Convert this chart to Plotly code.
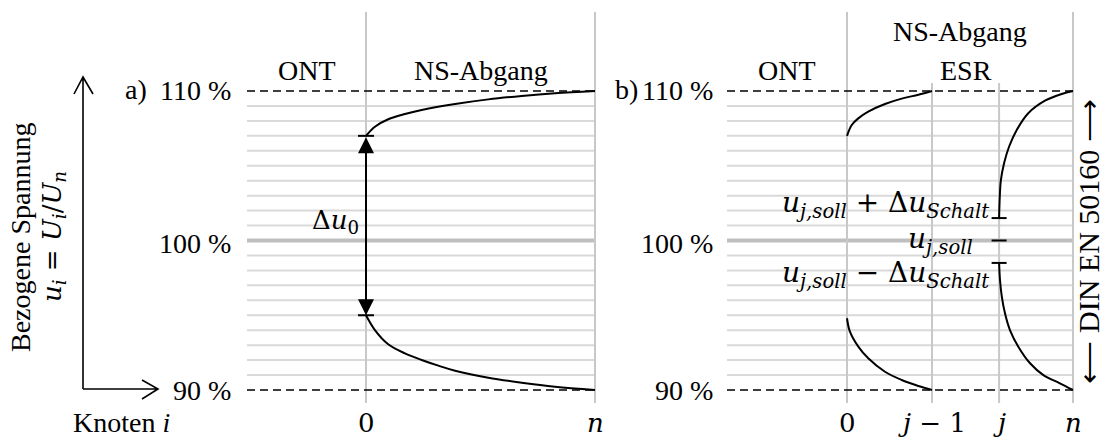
import plotly.graph_objects as go

W, H = 1105, 441

# ---------------- data ----------------
y_tick_vals = [90, 100, 110]
y_tick_text = ["90 %", "100 %", "110 %"]
grid_levels = [91, 92, 93, 94, 95, 96, 97, 98, 99,
               101, 102, 103, 104, 105, 106, 107, 108, 109]
band_low = 90
band_high = 110
u_nominal = 100

# panel a) (node position normalised: 0 = transformer, 1 = node n)
a_node_pos = [0.0, 1.0]
a_node_labels = ["0", "<i>n</i>"]
a_upper_x = [0.0, 0.039, 0.097, 0.170, 0.243, 0.389, 0.534, 0.680, 0.825, 1.0]
a_upper_u = [107.0, 107.61, 108.11, 108.46, 108.73, 109.13, 109.44, 109.67, 109.85, 110.0]
a_lower_x = [0.0, 0.039, 0.097, 0.170, 0.243, 0.316, 0.389, 0.534, 0.680, 0.825, 1.0]
a_lower_u = [95.0, 94.01, 93.06, 92.45, 92.01, 91.63, 91.29, 90.82, 90.49, 90.22, 90.0]
u0_high = 107.0
u0_low = 95.0

# panel b)
b_node_pos = [0.0, 0.376, 0.673, 1.0]
b_node_labels = ["0", "<i>j</i> − 1", "<i>j</i>", "<i>n</i>"]
b_up1_x = [0.0, 0.021, 0.050, 0.094, 0.168, 0.242, 0.316, 0.376]
b_up1_u = [107.0, 107.73, 108.17, 108.62, 109.13, 109.49, 109.75, 110.0]
b_lo1_x = [0.0, 0.013, 0.050, 0.094, 0.168, 0.242, 0.316, 0.376]
b_lo1_u = [94.8, 93.9, 92.90, 92.12, 91.22, 90.67, 90.27, 90.0]
b_up2_x = [0.673, 0.676, 0.681, 0.695, 0.717, 0.751, 0.802, 0.876, 0.950, 1.0]
b_up2_u = [101.5, 102.93, 104.05, 105.16, 106.27, 107.39, 108.51, 109.35, 109.80, 110.0]
b_lo2_x = [0.673, 0.677, 0.685, 0.699, 0.721, 0.758, 0.810, 0.869, 0.942, 1.0]
b_lo2_u = [98.5, 97.36, 96.24, 95.13, 94.01, 92.90, 91.79, 91.00, 90.45, 90.0]
u_j_soll = 100.0
du_schalt = 1.5

# ---------------- geometry (layout only) ----------------
PX_Y110, PX_Y90 = 91, 390
ppu = (PX_Y90 - PX_Y110) / (band_high - band_low)
y_range = [band_high - (H - PX_Y110) / ppu, band_high + PX_Y110 / ppu]
A_P0, A_PN = 366, 595
B_P0, B_PN = 847, 1073
a_scale = A_PN - A_P0
b_scale = B_PN - B_P0
xa_range = [-A_P0 / a_scale, (W - A_P0) / a_scale]
xb_range = [-B_P0 / b_scale, (W - B_P0) / b_scale]
a_left = (247 - A_P0) / a_scale
b_left = (727 - B_P0) / b_scale
y_vbot = band_low - (403 - PX_Y90) / ppu
y_vtop = band_high + (PX_Y110 - 12) / ppu
y_vtop_short = band_high + (PX_Y110 - 83) / ppu
tick_half_a = 8 / a_scale
tick_half_b = 7.5 / b_scale


def px(x):
    return x / W


def py(y):
    return 1 - y / H


FONT = "Liberation Serif"
MATH = "DejaVu Serif"
FS = 28
MFS = 26
JFS = 28
GRID = "#d9d9d9"
VLINE = "#c8c8c8"

fig = go.Figure()


def seg_trace(xs_pairs, ys_pairs, xaxis, color, width, dash=None):
    xs, ys = [], []
    for (x0, x1), (y0, y1) in zip(xs_pairs, ys_pairs):
        xs += [x0, x1, None]
        ys += [y0, y1, None]
    fig.add_trace(go.Scatter(x=xs, y=ys, mode="lines", xaxis=xaxis, yaxis="y",
                             line=dict(color=color, width=width, dash=dash),
                             hoverinfo="skip", showlegend=False))


# grid lines
for xaxis, left, right in [("x", a_left, a_node_pos[-1]), ("x2", b_left, b_node_pos[-1])]:
    seg_trace([(left, right)] * len(grid_levels), [(g, g) for g in grid_levels], xaxis, GRID, 2)
    seg_trace([(left, right)], [(u_nominal, u_nominal)], xaxis, "#bfbfbf", 4)

# vertical node lines
seg_trace([(p, p) for p in a_node_pos], [(y_vbot, y_vtop)] * len(a_node_pos), "x", VLINE, 2)
b_tops = [y_vtop, y_vtop_short, y_vtop_short, y_vtop]
seg_trace([(p, p) for p in b_node_pos], [(y_vbot, t) for t in b_tops], "x2", VLINE, 2)

# dashed band limits
for xaxis, left, right in [("x", a_left, a_node_pos[-1]), ("x2", b_left, b_node_pos[-1])]:
    seg_trace([(left, right)] * 2, [(band_low, band_low), (band_high, band_high)],
              xaxis, "black", 1.5, dash="8px,5px")

# voltage curves
for xs, us, xaxis in [(a_upper_x, a_upper_u, "x"), (a_lower_x, a_lower_u, "x"),
                      (b_up1_x, b_up1_u, "x2"), (b_lo1_x, b_lo1_u, "x2"),
                      (b_up2_x, b_up2_u, "x2"), (b_lo2_x, b_lo2_u, "x2")]:
    fig.add_trace(go.Scatter(x=xs, y=us, mode="lines", xaxis=xaxis, yaxis="y",
                             line=dict(color="black", width=2, shape="spline", smoothing=1.0),
                             hoverinfo="skip", showlegend=False))

# tick bars
x0a = a_node_pos[0]
seg_trace([(x0a - tick_half_a, x0a + tick_half_a)] * 2, [(u0_high, u0_high), (u0_low, u0_low)],
          "x", "black", 2)
xj = b_node_pos[2]
j_levels = [u_j_soll + du_schalt, u_j_soll, u_j_soll - du_schalt]
seg_trace([(xj - tick_half_b, xj + tick_half_b)] * 3, [(v, v) for v in j_levels], "x2", "black", 2)

annotations = []


def ann(text, x, y, xref="paper", yref="paper", xanchor="center", yanchor="middle",
        size=FS, family=FONT, textangle=0, xshift=0, yshift=0):
    annotations.append(dict(text=text, x=x, y=y, xref=xref, yref=yref, xanchor=xanchor,
                            yanchor=yanchor, showarrow=False, textangle=textangle,
                            xshift=xshift, yshift=yshift, borderpad=0,
                            font=dict(family=family, size=size, color="black")))


# double arrow delta u0
annotations.append(dict(x=x0a, y=u0_low, ax=x0a, ay=u0_high, xref="x", yref="y",
                        axref="x", ayref="y", text="", showarrow=True,
                        arrowhead=2, startarrowhead=2, arrowside="end+start",
                        arrowsize=1.6, startarrowsize=1.6, arrowwidth=2,
                        arrowcolor="black", standoff=0, startstandoff=0))
ann("Δ<i>u</i><sub>0</sub>", x0a, (u0_high + u0_low) / 2 + 0.3, xref="x", yref="y",
    xanchor="right", family=MATH, size=MFS, xshift=-6)

# y tick labels
y_label_shift = [0, -3, 1]
for v, t, s in zip(y_tick_vals, y_tick_text, y_label_shift):
    ann(t, px(232), v, yref="y", xanchor="right", yshift=s)
    ann(t, px(714), v, yref="y", xanchor="right", yshift=s)
ann("a)", px(136), band_high, yref="y", yshift=2)
ann("b)", px(626), band_high, yref="y", yshift=2)

# x tick labels
for p, t in zip(a_node_pos, a_node_labels):
    ann(t, p, 0, xref="x", yanchor="bottom", family=MATH, size=MFS, yshift=2)
for p, t in zip(b_node_pos, b_node_labels):
    ann(t, p, 0, xref="x2", yanchor="bottom", family=MATH, size=MFS, yshift=2)

# section labels
ann("ONT", (a_left + a_node_pos[0]) / 2, py(70), xref="x")
ann("NS-Abgang", (a_node_pos[0] + a_node_pos[1]) / 2, py(70), xref="x")
ann("ONT", (b_left + b_node_pos[0]) / 2, py(70), xref="x2")
ann("NS-Abgang", (b_node_pos[0] + b_node_pos[-1]) / 2, py(31), xref="x2")
ann("ESR", (b_node_pos[1] + b_node_pos[2]) / 2, py(70), xref="x2")

# j labels
ann("<i>u</i><sub><i>j,soll</i></sub> + Δ<i>u</i><sub><i>Schalt</i></sub>", xj, j_levels[0],
    xref="x2", yref="y", xanchor="right", yanchor="bottom", family=MATH, size=JFS,
    xshift=-9, yshift=-6)
ann("<i>u</i><sub><i>j,soll</i></sub>", xj, j_levels[1],
    xref="x2", yref="y", xanchor="right", yanchor="middle", family=MATH, size=JFS,
    xshift=-25, yshift=0)
ann("<i>u</i><sub><i>j,soll</i></sub> − Δ<i>u</i><sub><i>Schalt</i></sub>", xj, j_levels[2],
    xref="x2", yref="y", xanchor="right", yanchor="top", family=MATH, size=JFS,
    xshift=-9, yshift=8)

# DIN EN 50160
ann("⟵ DIN EN 50160 ⟶", 1, py(242), xanchor="right", size=30, textangle=-90)

# left axis labels
ann("Bezogene Spannung", px(20), py(238), textangle=-90)
ann("<i>u</i><sub><i>i</i></sub> = <i>U</i><sub><i>i</i></sub>/<i>U</i><sub><i>n</i></sub>",
    px(53), py(237), textangle=-90, family=MATH, size=MFS)
ann("Knoten <i>i</i>", px(72), 0, xanchor="left", yanchor="bottom", yshift=2)

# axis arrows (decoration)
shapes = []
line = dict(color="black", width=1.6)
shapes.append(dict(type="path", xref="paper", yref="paper", line=line,
                   path=f"M {px(83)},{py(389)} L {px(83)},{py(77)} M {px(74)},{py(94)} L {px(83)},{py(77)} L {px(93)},{py(94)}"))
shapes.append(dict(type="path", xref="paper", yref="paper", line=line,
                   path=f"M {px(83)},{py(389)} L {px(158)},{py(389)} M {px(142)},{py(380)} L {px(158)},{py(389)} L {px(142)},{py(399)}"))

fig.update_layout(
    width=W, height=H, margin=dict(l=0, r=0, t=0, b=0),
    paper_bgcolor="white", plot_bgcolor="white", showlegend=False,
    font=dict(family=FONT, size=FS, color="black"),
    xaxis=dict(domain=[0, 1], range=xa_range, visible=False, fixedrange=True),
    xaxis2=dict(domain=[0, 1], range=xb_range, visible=False, overlaying="x",
                anchor="y", fixedrange=True),
    yaxis=dict(domain=[0, 1], range=y_range, visible=False, fixedrange=True),
    annotations=annotations, shapes=shapes,
)

fig.write_html("out.html")
